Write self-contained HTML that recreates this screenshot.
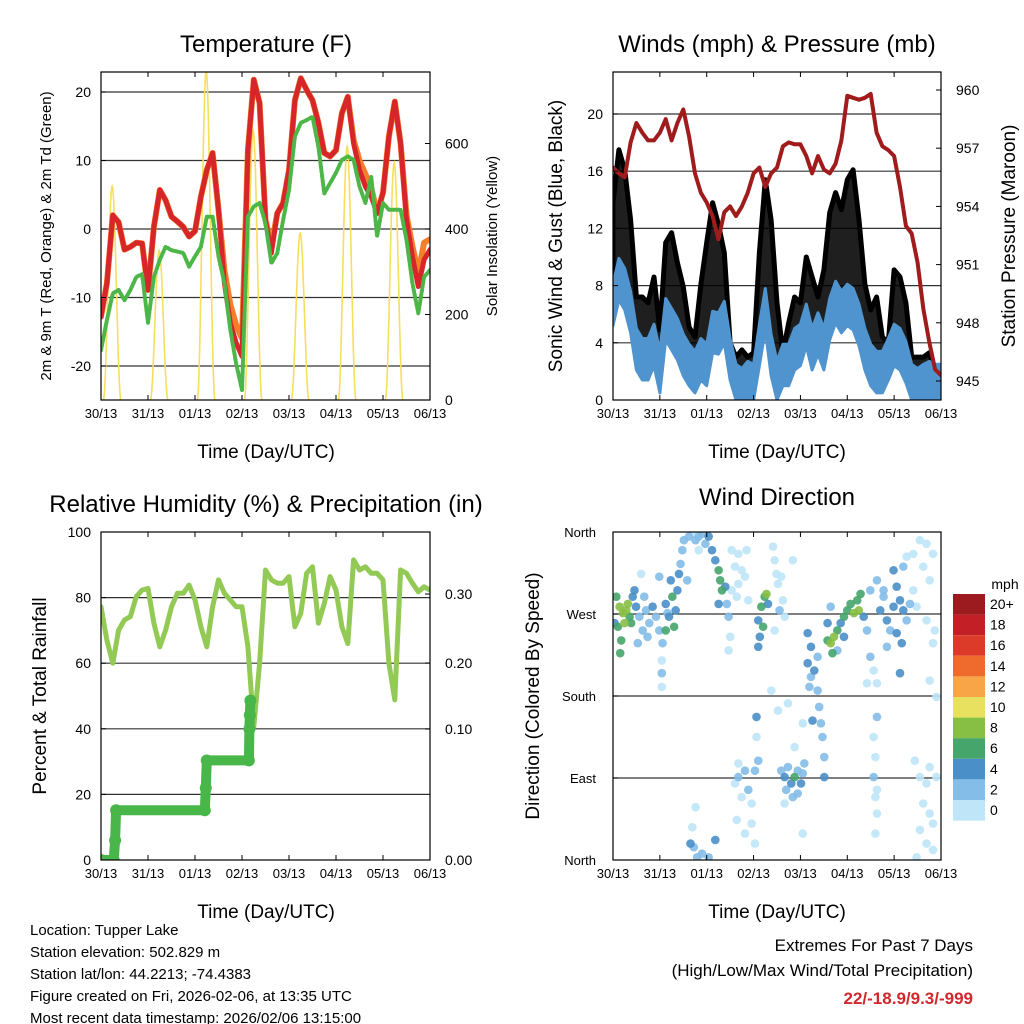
<!DOCTYPE html>
<html><head><meta charset="utf-8"><style>
body{margin:0;background:#fff}
svg{display:block;font-family:"Liberation Sans",Arial,sans-serif}
</style></head><body>
<svg id="c" width="1024" height="1024" viewBox="0 0 1024 1024" xmlns="http://www.w3.org/2000/svg">
<defs>
<clipPath id="cp1"><rect x="101" y="72" width="329" height="328"/></clipPath>
<clipPath id="cp2"><rect x="613" y="72" width="328" height="328"/></clipPath>
<clipPath id="cp3"><rect x="101" y="532" width="329" height="328"/></clipPath>
<clipPath id="cp4"><rect x="613" y="532" width="328" height="328"/></clipPath>
</defs>
<text x="266" y="52" font-size="24" text-anchor="middle">Temperature (F)</text>
<text x="777" y="52" font-size="24" text-anchor="middle">Winds (mph) &amp; Pressure (mb)</text>
<text x="266" y="512" font-size="24" text-anchor="middle">Relative Humidity (%) &amp; Precipitation (in)</text>
<text x="777" y="505" font-size="24" text-anchor="middle">Wind Direction</text>
<text x="266" y="458" font-size="19" text-anchor="middle">Time (Day/UTC)</text>
<text x="777" y="458" font-size="19" text-anchor="middle">Time (Day/UTC)</text>
<text x="266" y="918" font-size="19" text-anchor="middle">Time (Day/UTC)</text>
<text x="777" y="918" font-size="19" text-anchor="middle">Time (Day/UTC)</text>
<text transform="translate(51,236) rotate(-90)" font-size="15" text-anchor="middle">2m &amp; 9m T (Red, Orange) &amp; 2m Td (Green)</text>
<text transform="translate(497,236) rotate(-90)" font-size="15" text-anchor="middle">Solar Insolation (Yellow)</text>
<text transform="translate(562,236) rotate(-90)" font-size="19" text-anchor="middle">Sonic Wind &amp; Gust (Blue, Black)</text>
<text transform="translate(1015,236) rotate(-90)" font-size="19" text-anchor="middle">Station Pressure (Maroon)</text>
<text transform="translate(46,696) rotate(-90)" font-size="19" text-anchor="middle">Percent &amp; Total Rainfall</text>
<text transform="translate(539,696) rotate(-90)" font-size="19" text-anchor="middle">Direction (Colored By Speed)</text>
<g font-size="15">
<text x="30" y="935">Location: Tupper Lake</text>
<text x="30" y="957">Station elevation: 502.829 m</text>
<text x="30" y="979">Station lat/lon: 44.2213; -74.4383</text>
<text x="30" y="1001">Figure created on Fri, 2026-02-06, at 13:35 UTC</text>
<text x="30" y="1023">Most recent data timestamp: 2026/02/06 13:15:00</text>
</g>
<g font-size="17" text-anchor="end">
<text x="973" y="951">Extremes For Past 7 Days</text>
<text x="973" y="976">(High/Low/Max Wind/Total Precipitation)</text>
<text x="973" y="1004" font-weight="bold" fill="#d0282c">22/-18.9/9.3/-999</text>
</g>
<g id="layer"></g>
</svg>
<script>
const dayLabels = ["30/13","31/13","01/13","02/13","03/13","04/13","05/13","06/13"];
const tempRed = [-12.8,-7.9,2.0,1.0,-3,-2.6,-2,-2.1,-8.9,0.3,5.7,4.2,1.8,1.1,0.3,-1.1,-0.3,4.7,8.6,11.1,2.8,-7.9,-13.7,-16.6,-18.6,11.5,21.8,18.4,1.3,-3.5,2.3,3.8,8.6,18.8,22,20.3,18.8,15.5,11.1,10.6,11.5,16.9,19.3,12.5,8.6,6.2,4.7,2.3,5.3,13.5,18.6,12.5,1.3,-4,-8.4,-4.5,-3];
const tempOrange = [-12.8,-7.9,2.0,1.0,-3,-2.6,-2,-2.1,-8.9,0.3,5.7,4.2,1.8,1.1,0.3,-1.1,-0.3,4.7,8.6,11.1,2.8,-6,-11,-14,-16,11.5,21.8,18.4,1.3,-2.5,2.3,3.8,8.6,18.8,22,20.3,18.8,15.5,11.1,10.6,11.5,16.9,19.3,13,10,8,6,2.3,5.3,13.5,18.6,12.5,2,-2.5,-6.5,-2,-1.5];
const tempDew = [-17.7,-13.3,-9.4,-8.9,-10.4,-8.9,-7,-6.6,-13.7,-7,-4.5,-2.6,-3.1,-3.3,-3.5,-5.5,-4,-2.6,1.8,1.8,-4,-7.9,-14.7,-19.6,-23.5,1.8,3.3,3.8,0.8,-5,-3.5,1.3,5.7,13.5,15.5,15.9,16.4,12,5.2,6.7,8.2,10.1,10.6,10.1,6.2,3.8,7.6,-1.1,3.8,2.8,2.8,2.8,-1.6,-7.9,-12.3,-7,-6];
const solarPeak = [500,350,770,630,390,593,555];
const pressure = [956.0,955.7,955.5,957.3,958.3,957.8,957.4,957.4,957.8,958.5,957.4,958.3,959.0,957.6,955.7,954.7,954.2,953.5,952.3,953.7,954.0,953.5,954.0,954.7,955.7,956.0,955.0,955.7,956.0,957.1,957.3,957.2,957.2,956.6,955.7,956.6,955.9,955.7,956.2,957.4,959.7,959.6,959.5,959.6,959.8,957.8,957.1,956.9,956.6,955.0,953.0,952.6,951.1,948.7,947.0,945.6,945.3];
const windMean = [6.8,8.6,7.9,6.3,3.7,3.0,3.0,4.0,2.1,5.8,5.1,4.4,3.3,2.6,2.1,3.0,2.6,4.9,4.8,5.6,3.0,1.2,0.9,1.4,1.2,4.0,6.5,3.3,1.4,2.6,2.6,3.7,4.0,5.4,3.7,4.8,3.7,5.8,7.0,6.3,6.8,6.5,5.4,3.7,2.6,2.1,2.1,3.0,4.0,3.7,2.8,1.2,0.9,1.2,1.4,1.2,1.2];
const windGust = [13.8,17.5,16.1,12.6,7.2,7.2,6.8,8.6,4.9,11.0,11.7,9.6,7.9,5.1,4.4,8.1,11.0,13.8,12.3,10.3,4.0,3.0,3.5,3.0,3.3,10.3,15.4,12.6,6.8,3.3,5.4,7.2,6.8,10.0,8.6,7.2,9.1,13.1,14.5,13.3,15.4,16.1,12.6,8.1,6.3,7.2,4.4,4.0,9.1,8.6,6.8,3.0,3.0,3.0,3.3,2.1,1.7];
const relHum = [77.2,67,60,70.1,73.2,74.2,80.3,82.3,82.8,72.2,65,70.1,77.2,81.3,81.3,83.8,79.3,71.1,65,77.2,85.4,81.3,79.3,77.2,77.2,65,40.6,60,88.4,85.4,84.4,84.4,86.4,71.1,75.2,87.4,89.4,72.2,78.2,86.4,82.3,71.1,66,91.5,88.4,89.4,87.4,87.4,85.4,60,48.8,88.4,87.4,84.4,81.8,83.3,82.3];
const rainHours = [0,6.5,7.2,7.7,53,53.5,54,75.5,75.8,76,76.3];
const rainInches = [0,0,0.015,0.038,0.038,0.055,0.076,0.076,0.1,0.121,0.143];
const dirHours = [1.7,3.4,5.1,6.8,7.6,8.5,10.1,2.5,4.2,3.7,5.9,9.3,11,0.8,11.8,13.5,15.2,16.9,18.6,20.3,22,23.7,16,14.4,17.7,25.4,25,25,25,12.7,27,28.7,30.4,27,29.6,31.3,33,33.8,34.6,35.5,36.3,38,32.1,27.9,23.7,38.9,40.6,42.3,43.9,45.6,47.3,49,43.9,50.7,52.4,54.1,54.9,55.8,57.5,58.3,59.2,60,59.2,54.1,40.6,41.4,39.7,43.1,45.6,49,52.4,42.3,60.8,64.2,62.5,65.9,67.6,64.2,60.8,69.3,63.4,68.4,64.2,67.6,62.5,65.9,69.3,72.7,74.4,71,64.2,63.4,67.6,71,72.7,73.5,73.5,74.4,76,77.7,79.4,75.2,76.9,78.6,74.4,82,82.8,83.7,84.5,86.2,87,87.9,85.3,81.1,82.8,92.1,86.2,87.9,89.6,91.3,93,94.6,96.3,98,88.7,92.1,94.6,97.2,87.9,84.5,89.6,97.2,93,97.2,99.7,101.4,99.7,101.4,100.6,103.1,104.8,105.6,106.5,107.3,108.2,108.2,102.2,104.8,109.9,111.5,113.2,114.9,112.4,116.6,118.3,120,121.7,123.4,125.1,126.8,125.9,128.4,118.3,109.9,111.5,114.9,131.8,130.1,131.8,133.5,135.2,130.1,135.2,136.9,138.6,140.3,142,143.7,145.3,147,148.7,150.4,145.3,147.9,143.7,138.6,140.3,147,152.1,153.8,150.4,148.7,133.5,134.4,133.5,135.2,134.4,135.2,135.2,134.4,153.8,157.2,160.6,163.9,158.9,162.2,155.5,160.6,164.8,163.9,162.2,165.6,154.6,157.2,160.6,158.9,162.2,157.2,163.9,160.6,155.5,163.9,165.6,162.2];
const dirDeg = [289,278,271,274,281,267,289,256,241,227,260,260,296,260,278,267,252,274,260,278,267,252,289,314,245,238,219,190,205,238,281,267,289,252,307,256,296,314,325,340,351,307,274,271,311,355,358,351,355,358,347,355,340,340,329,318,307,296,300,281,267,245,230,281,36,14,18,3,7,3,22,58,340,336,322,318,311,303,296,285,289,340,106,98,84,69,77,98,109,62,91,44,29,40,18,157,135,263,278,289,281,245,256,292,234,344,329,314,303,311,285,267,274,186,252,329,98,91,102,84,91,98,84,106,77,69,73,95,62,164,172,150,124,29,249,234,216,201,190,208,186,168,150,135,113,91,153,223,241,238,245,252,227,260,267,274,281,271,285,292,274,267,245,260,278,230,296,252,223,208,194,194,307,274,289,263,252,278,300,285,274,263,249,238,318,296,234,205,281,296,333,322,135,113,91,77,69,157,51,29,336,351,347,336,322,307,278,263,252,238,197,179,109,91,84,62,51,33,40,18,3,11,91,102];
const dirSpeed = [6,8,8,8,8,6,4,6,6,6,8,6,4,4,4,2,2,2,2,4,2,2,2,0,2,2,0,0,2,2,4,4,6,6,4,6,4,4,2,2,2,2,4,2,2,2,0,2,2,2,2,4,0,4,4,6,6,6,4,2,2,0,0,4,0,2,4,2,2,2,4,0,0,0,0,0,0,0,0,0,0,0,0,2,0,0,2,2,2,0,2,0,0,0,0,4,0,4,6,6,4,4,6,8,4,0,0,0,0,0,0,0,2,0,0,0,2,4,2,4,6,2,4,2,2,2,2,2,0,0,0,0,0,0,4,4,4,2,2,4,2,2,2,2,2,4,4,2,6,8,8,6,6,4,6,6,6,8,6,6,8,4,4,4,2,2,2,2,2,0,0,0,2,4,2,4,2,4,4,4,4,2,4,4,4,2,2,4,2,0,0,2,0,0,2,0,0,2,0,0,0,0,0,0,0,0,0,0,0,0,0,0,0,0,0,0,0,0,0,0,0,0,0,0,2,0];
const cbLabels = ["20+","18","16","14","12","10","8","6","4","2","0"];
const cbColors = ["#9b1b1e","#c21f26","#dc3b2a","#ee6a2d","#f7a546","#e8e160","#86bf43","#46a56b","#4a8fc8","#84bde8","#bfe5f8"];

const NS="http://www.w3.org/2000/svg";
const layer=document.getElementById('layer');
function mk(tag,parent,attrs){const e=document.createElementNS(NS,tag);for(const k in attrs)e.setAttribute(k,attrs[k]);(parent||layer).appendChild(e);return e;}
function txt(parent,x,y,s,size,anchor){const t=mk('text',parent,{x:x,y:y,'font-size':size,'text-anchor':anchor});t.textContent=s;return t;}

const P={t:{x0:101,x1:430,y0:72,y1:400},w:{x0:613,x1:941,y0:72,y1:400},r:{x0:101,x1:430,y0:532,y1:860},d:{x0:613,x1:941,y0:532,y1:860}};
const xH=(p,h)=>p.x0+h/168*(p.x1-p.x0);
const yTemp=v=>229-v*6.85;
const ySolar=v=>400-v*0.4275;
const yWind=v=>400-v*14.3;
const yPres=v=>381-(v-945)*19.4;
const yRH=v=>860-v*3.28;
function yRain(v){const a=[[0,860],[0.1,729],[0.2,663],[0.3,594]];for(let i=1;i<a.length;i++){if(v<=a[i][0]){const f=(v-a[i-1][0])/(a[i][0]-a[i-1][0]);return a[i-1][1]+f*(a[i][1]-a[i-1][1]);}}return 594;}
const yDir=v=>860-v/360*328;

function frame(p,name){
  const g=mk('g',null,{});
  
  
  return g;
}
function grid(g,p,ys){ys.forEach(y=>{const l=mk('line',g,{x1:p.x0,x2:p.x1,y1:y,y2:y,stroke:'#333','stroke-width':1.2});});}
function box(g,p){const r=mk('rect',g,{x:p.x0,y:p.y0,width:p.x1-p.x0,height:p.y1-p.y0,fill:'none',stroke:'#000','stroke-width':1.2});
  for(let k=0;k<8;k++){const x=xH(p,k*24);
    mk('line',g,{x1:x,x2:x,y1:p.y1,y2:p.y1-5,stroke:'#000'});mk('line',g,{x1:x,x2:x,y1:p.y0,y2:p.y0+5,stroke:'#000'});
    const t=txt(g,x,p.y1+18,dayLabels[k],13,'middle');
    
    }
}
function leftTicks(g,p,vals,yf,fmt){vals.forEach(v=>{const y=yf(v);mk('line',g,{x1:p.x0,x2:p.x0+5,y1:y,y2:y,stroke:'#000'});const t=txt(g,p.x0-10,y+5,fmt(v),14,'end');});}
function rightTicks(g,p,vals,yf,fmt){vals.forEach(v=>{const y=yf(v);mk('line',g,{x1:p.x1,x2:p.x1-5,y1:y,y2:y,stroke:'#000'});const t=txt(g,p.x1+15,y+5,fmt(v),14,'start');});}
function line(parent,p,arr,yf,attrs,name){const pts=arr.map((v,i)=>xH(p,i*3).toFixed(1)+','+yf(v).toFixed(1)).join(' ');const e=mk('polyline',parent,Object.assign({points:pts,fill:'none','stroke-linejoin':'round','stroke-linecap':'round'},attrs));return e;}

let g=frame(P.t,'temperature');
grid(g,P.t,[-20,-10,0,10,20].map(yTemp));
let c=mk('g',g,{'clip-path':'url(#cp1)'});
solarPeak.forEach((pk,d)=>{let pts=[];for(let k=0;k<=40;k++){const f=k/40;const h=d*24+1.2+f*9;const v=pk*Math.pow(Math.sin(Math.PI*f),2);pts.push(xH(P.t,h).toFixed(1)+','+ySolar(v).toFixed(1));}
  const e=mk('polyline',c,{points:pts.join(' '),fill:'none',stroke:'#f5df5c','stroke-width':1.6});
  
  });
line(c,P.t,tempOrange,yTemp,{stroke:'#f47f2a','stroke-width':6},'orange-temp-9m');
line(c,P.t,tempRed,yTemp,{stroke:'#d7262a','stroke-width':5},'red-temp-2m');
line(c,P.t,tempDew,yTemp,{stroke:'#4cb648','stroke-width':4,'stroke-dasharray':'2.5 2'},'green-dewpoint');
box(g,P.t);
leftTicks(g,P.t,[20,10,0,-10,-20],yTemp,v=>String(v));
rightTicks(g,P.t,[0,200,400,600],ySolar,v=>String(v));

g=frame(P.w,'winds');
grid(g,P.w,[4,8,12,16,20].map(yWind));
c=mk('g',g,{'clip-path':'url(#cp2)'});
{const top=windGust.map((v,i)=>xH(P.w,i*3).toFixed(1)+','+yWind(v).toFixed(1));const bot=windMean.map((v,i)=>xH(P.w,i*3).toFixed(1)+','+yWind(v).toFixed(1)).reverse();
 const e=mk('polygon',c,{points:top.concat(bot).join(' '),fill:'#000','fill-opacity':0.88,stroke:'#000','stroke-width':5,'stroke-linejoin':'round'});
 
 
 const t2=windMean.map((v,i)=>xH(P.w,i*3).toFixed(1)+','+yWind(v+1.3).toFixed(1));const b2=windMean.map((v,i)=>xH(P.w,i*3).toFixed(1)+','+yWind(Math.max(0,v-1.6)).toFixed(1)).reverse();
 const e2=mk('polygon',c,{points:t2.concat(b2).join(' '),fill:'#4f94cf',stroke:'#4f94cf','stroke-width':3,'stroke-linejoin':'round'});
 
 }
line(c,P.w,pressure,yPres,{stroke:'#a01c1c','stroke-width':4},'pressure-line');
box(g,P.w);
leftTicks(g,P.w,[0,4,8,12,16,20],yWind,v=>String(v));
rightTicks(g,P.w,[945,948,951,954,957,960],yPres,v=>String(v));

g=frame(P.r,'humidity');
grid(g,P.r,[20,40,60,80].map(yRH));
c=mk('g',g,{'clip-path':'url(#cp3)'});
line(c,P.r,relHum,yRH,{stroke:'#93c955','stroke-width':5},'rh-line');
{const pts=rainHours.map((h,i)=>xH(P.r,h).toFixed(1)+','+yRain(rainInches[i]).toFixed(1)).join(' ');
 const e=mk('polyline',c,{points:pts,fill:'none',stroke:'#49b649','stroke-width':10,'stroke-linecap':'round','stroke-linejoin':'round'});
 
 
 rainHours.forEach((h,i)=>{const d=mk('circle',c,{cx:xH(P.r,h),cy:yRain(rainInches[i]),r:6,fill:'#49b649'});
  
  });}
box(g,P.r);
leftTicks(g,P.r,[0,20,40,60,80,100],yRH,v=>String(v));
rightTicks(g,P.r,[0,0.1,0.2,0.3],yRain,v=>v.toFixed(2));

g=frame(P.d,'direction');
grid(g,P.d,[90,180,270].map(yDir));
c=mk('g',g,{'clip-path':'url(#cp4)'});
const colFor=s=>cbColors[10-Math.min(10,Math.floor(s/2))];
const order=dirSpeed.map((s,i)=>i).sort((a,b)=>dirSpeed[a]-dirSpeed[b]);
order.forEach(i=>{const d=mk('circle',c,{cx:xH(P.d,dirHours[i]),cy:yDir(dirDeg[i]),r:4.3,fill:colFor(dirSpeed[i]),'fill-opacity':0.9});
  
  });
box(g,P.d);
[["North",360],["West",270],["South",180],["East",90],["North",0]].forEach(a=>{const y=yDir(a[1]);mk('line',g,{x1:P.d.x0,x2:P.d.x0+5,y1:y,y2:y,stroke:'#000'});const t=txt(g,P.d.x0-17,y+5,a[0],13,'end');});
const cb=mk('g',null,{});


const mt=txt(cb,1005,589,'mph',14,'middle');


cbLabels.forEach((l,i)=>{const y=594+i*20.6;const r=mk('rect',cb,{x:953,y:y,width:32,height:20.6,fill:cbColors[i]});
  
  
  const t=txt(cb,990,y+15,l,14,'start');
  
  });
</script>
</body></html>
